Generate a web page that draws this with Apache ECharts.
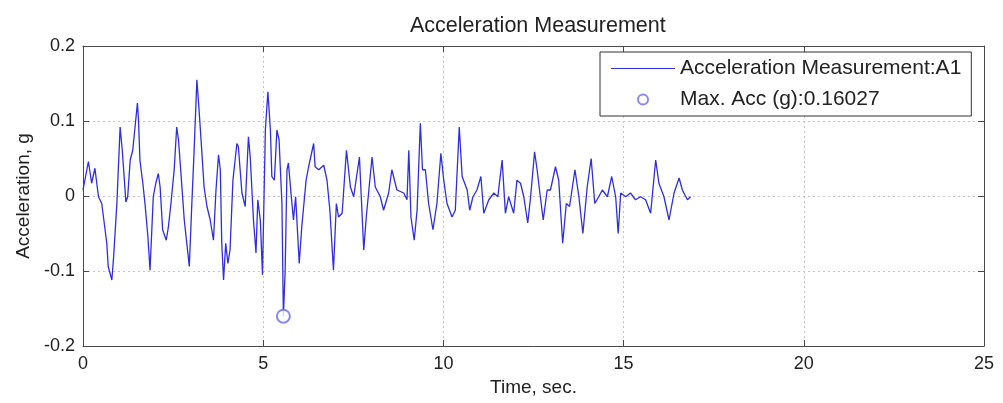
<!DOCTYPE html>
<html><head><meta charset="utf-8">
<script src="https://cdn.jsdelivr.net/npm/echarts@6/dist/echarts.min.js"></script>
<style>html,body{margin:0;padding:0;background:#fff}#c{width:1003px;height:403px}</style>
</head><body><div id="c"></div>
<script>
// Time stamps (s) and acceleration (g)
const timeSec = [
0.00,0.15,0.24,0.33,0.43,0.52,0.66,0.70,0.80,0.85,0.94,1.03,1.09,1.19,1.24,1.31,1.38,1.51,1.54,1.58,
1.66,1.72,1.80,1.86,1.95,2.02,2.09,2.14,2.21,2.31,2.37,2.44,2.53,2.60,2.65,2.71,2.81,2.90,2.95,3.02,
3.08,3.16,3.22,3.30,3.36,3.44,3.53,3.62,3.69,3.76,3.81,3.85,3.90,3.96,4.02,4.08,4.16,4.27,4.31,4.41,
4.50,4.59,4.64,4.73,4.80,4.85,4.92,4.98,5.06,5.13,5.20,5.24,5.31,5.38,5.44,5.52,5.56,5.61,5.66,5.70,
5.78,5.84,5.90,6.00,6.07,6.19,6.26,6.40,6.44,6.54,6.68,6.77,6.85,6.95,7.03,7.09,7.19,7.31,7.42,7.51,
7.67,7.79,7.86,8.02,8.11,8.25,8.34,8.48,8.57,8.71,8.90,8.99,9.04,9.10,9.19,9.27,9.36,9.42,9.50,9.59,
9.71,9.82,9.93,10.01,10.10,10.24,10.33,10.44,10.52,10.66,10.73,10.82,10.93,11.04,11.12,11.26,11.40,11.51,11.63,11.72,
11.81,11.95,12.04,12.14,12.23,12.34,12.42,12.53,12.60,12.69,12.77,12.88,12.97,13.11,13.20,13.31,13.41,13.50,13.65,13.76,
13.87,13.99,14.10,14.20,14.31,14.41,14.55,14.67,14.78,14.85,14.92,15.06,15.19,15.33,15.47,15.61,15.75,15.89,15.98,16.12,
16.26,16.40,16.54,16.63,16.77,16.86
];
const accelG = [
0.008,0.046,0.017,0.037,-0.001,-0.010,-0.063,-0.094,-0.112,-0.081,-0.010,0.092,0.061,-0.008,-0.001,0.048,0.061,0.124,0.101,0.048,
0.017,-0.010,-0.054,-0.099,-0.001,0.017,0.030,0.012,-0.045,-0.059,-0.041,-0.010,0.035,0.092,0.075,0.035,-0.032,-0.072,-0.094,-0.010,
0.057,0.155,0.115,0.057,0.012,-0.014,-0.032,-0.059,0.008,0.055,0.035,-0.063,-0.112,-0.063,-0.090,-0.072,0.021,0.070,0.066,0.004,
-0.014,0.079,0.052,-0.032,-0.076,-0.005,-0.032,-0.105,0.088,0.139,0.088,0.026,0.021,0.088,0.075,-0.010,-0.16027,-0.099,0.035,0.044,
-0.001,-0.032,-0.001,-0.090,-0.041,0.021,0.039,0.070,0.039,0.035,0.041,0.021,-0.019,-0.099,-0.010,-0.028,-0.023,0.061,0.012,-0.001,
0.052,-0.072,-0.028,0.052,0.012,-0.001,-0.019,0.004,0.035,0.008,0.004,-0.005,0.061,-0.028,-0.059,-0.019,0.097,0.035,0.035,-0.010,
-0.045,-0.010,0.057,0.021,-0.010,-0.028,-0.019,0.092,0.026,0.008,-0.019,-0.001,0.008,0.026,-0.023,-0.005,0.004,-0.001,0.048,-0.023,
-0.001,-0.023,0.021,0.017,-0.001,-0.036,-0.001,0.059,0.035,-0.001,-0.032,0.008,0.008,0.039,0.021,-0.063,-0.010,-0.014,0.035,-0.001,
-0.050,0.012,0.050,-0.010,-0.001,0.008,-0.001,0.026,-0.001,-0.050,0.004,-0.001,0.004,-0.005,-0.001,-0.005,-0.023,0.048,0.017,-0.001,
-0.032,0.004,0.024,0.008,-0.005,-0.001
];
const maxTime = [5.56];
const maxAcc = [-0.16027];
const xRange = [0, 25, 5];
const yRange = [-0.2, 0.2, 0.1];
const titleText = 'Acceleration Measurement';
const lineName = 'Acceleration Measurement:A1';
const maxName = 'Max. Acc (g):0.16027';

const FONT = 'Liberation Sans, Arial, sans-serif';
const chart = echarts.init(document.getElementById('c'), null, {renderer: 'canvas'});
const lineData = timeSec.map((t, i) => [t, accelG[i]]);
const maxData = maxTime.map((t, i) => [t, maxAcc[i]]);
const axisCommon = {
  type: 'value',
  axisLine: {show: true, onZero: false, lineStyle: {color: '#4a4a4a', width: 1}},
  axisTick: {show: true, inside: true, length: 6, lineStyle: {color: '#4a4a4a'}},
  minorTick: {show: false}
};
const gridLine = {show: true, lineStyle: {color: '#c4c4c4', type: [2, 3], width: 1}};
const LINE_COLOR = '#2e2edc';
const MARK_COLOR = '#6b6bf0';
chart.setOption({
  animation: false,
  backgroundColor: '#fff',
  title: {text: titleText, left: 405, top: 10,
    textStyle: {fontFamily: FONT, fontSize: 21.5, fontWeight: 'normal', color: '#222'}},
  grid: {left: 83, right: 19, top: 46, bottom: 57, containLabel: false},
  legend: {
    orient: 'vertical', left: 600, top: 52, padding: [6, 10, 6, 11],
    itemWidth: 64, itemHeight: 10, itemGap: 10, symbolKeepAspect: true,
    borderColor: '#333', borderWidth: 1, backgroundColor: '#fff',
    textStyle: {fontFamily: FONT, fontSize: 21, color: '#222', lineHeight: 20},
    data: [
      {name: lineName, icon: 'path://M0,0 L64,0 L64,1.2 L0,1.2 Z', itemStyle: {color: LINE_COLOR}},
      {name: maxName, icon: 'emptyCircle'}
    ]
  },
  xAxis: [
    Object.assign({}, axisCommon, {
      position: 'bottom', min: xRange[0], max: xRange[1], interval: xRange[2],
      splitLine: gridLine,
      axisLabel: {fontFamily: FONT, fontSize: 18, color: '#222', margin: 9},
      name: 'Time, sec.', nameLocation: 'middle', nameGap: 30,
      nameTextStyle: {fontFamily: FONT, fontSize: 19, color: '#222'}
    }),
    Object.assign({}, axisCommon, {
      position: 'top', min: xRange[0], max: xRange[1], interval: xRange[2],
      splitLine: {show: false}, axisLabel: {show: false}
    })
  ],
  yAxis: [
    Object.assign({}, axisCommon, {
      position: 'left', min: yRange[0], max: yRange[1], interval: yRange[2],
      splitLine: gridLine,
      axisLabel: {fontFamily: FONT, fontSize: 18, color: '#222', margin: 8,
        formatter: v => (Math.abs(v) < 1e-9 ? '0' : v.toFixed(1))},
      name: 'Acceleration, g', nameLocation: 'middle', nameGap: 50,
      nameTextStyle: {fontFamily: FONT, fontSize: 19, color: '#222'}
    }),
    Object.assign({}, axisCommon, {
      position: 'right', min: yRange[0], max: yRange[1], interval: yRange[2],
      splitLine: {show: false}, axisLabel: {show: false}
    })
  ],
  series: [
    {name: lineName, type: 'line', data: lineData, symbol: 'none', showSymbol: false,
      lineStyle: {color: LINE_COLOR, width: 1.3}, itemStyle: {color: LINE_COLOR}, z: 3},
    {name: maxName, type: 'scatter', data: maxData, symbol: 'emptyCircle', symbolSize: 13,
      itemStyle: {color: MARK_COLOR, borderWidth: 1.6}, z: 4}
  ]
});
</script></body></html>
